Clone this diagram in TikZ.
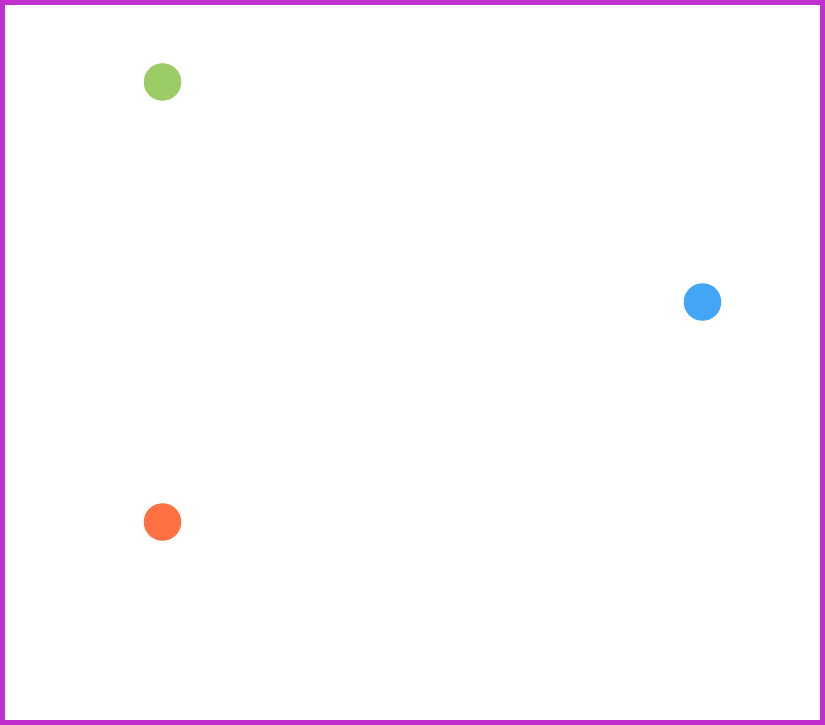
\documentclass[tikz,border=0pt]{standalone}
\definecolor{frame}{HTML}{C030D0}
\definecolor{dotgreen}{HTML}{9CCC65}
\definecolor{dotblue}{HTML}{42A5F5}
\definecolor{dotorange}{HTML}{FF7043}
\tikzset{dot/.style={circle,minimum size=37.5pt,inner sep=0pt,draw=none}}
\begin{document}
\begin{tikzpicture}[x=1pt,y=-1pt]
\useasboundingbox (0,0) rectangle (825,725);
\fill[white] (0,0) rectangle (825,725);
\draw[frame,line width=5pt] (2.5,2.5) rectangle (822.5,722.5);
\node[dot,fill=dotgreen] (g) at (162.5,82) {};
\node[dot,fill=dotblue] (b) at (702.5,302) {};
\node[dot,fill=dotorange] (o) at (162.5,522) {};
\end{tikzpicture}
\end{document}
